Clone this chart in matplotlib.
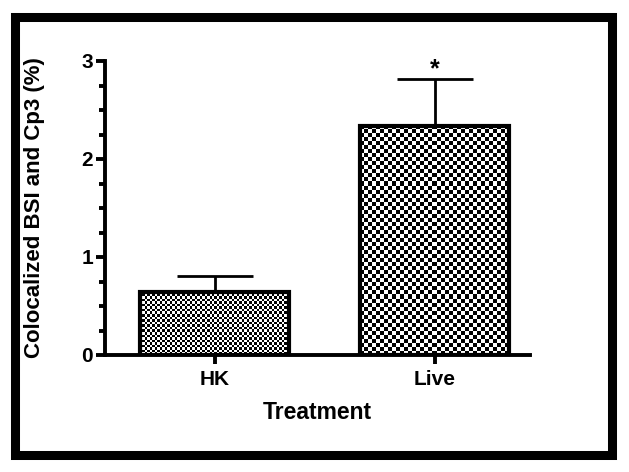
import numpy as np
import matplotlib
matplotlib.use("Agg")
import matplotlib.pyplot as plt
from matplotlib.patches import Rectangle
from matplotlib.ticker import MultipleLocator

categories = ["HK", "Live"]
values = [0.643, 2.337]
errors = [0.163, 0.479]
checker_px = [2.5, 4.0]
significance = ["", "*"]

plt.rcParams['font.family'] = ['Liberation Sans', 'DejaVu Sans']
plt.rcParams['font.weight'] = 'bold'

fig = plt.figure(figsize=(6.29, 4.72), dpi=100)
W, H = 629, 472
ax = fig.add_axes([105 / W, 1 - 355 / H, (530 - 105) / W, (355 - 61) / H])

x = np.arange(len(categories))
bars = ax.bar(x, values, width=0.677, color='none', edgecolor='black', linewidth=3.0, zorder=3)
ax.errorbar(x, values, yerr=[np.zeros(len(errors)), errors], fmt='none', ecolor='black',
            elinewidth=2.0, capsize=27.4, capthick=2.0, zorder=2)

ax.set_xlim(-0.498, 1.434)
ax.set_ylim(0, 3)
ax.set_xticks(x)
ax.set_xticklabels(categories)
ax.yaxis.set_major_locator(MultipleLocator(1))
ax.yaxis.set_minor_locator(MultipleLocator(0.25))
for s in ['top', 'right']:
    ax.spines[s].set_visible(False)
for s in ['left', 'bottom']:
    ax.spines[s].set_linewidth(2.8)
ax.tick_params(axis='both', which='major', width=2.8, length=6.5, labelsize=15, pad=2)
ax.tick_params(axis='x', which='major', pad=4)
ax.tick_params(axis='y', which='minor', width=2.8, length=4)
ax.set_ylabel("Colocalized BSI and Cp3 (%)", fontsize=16, fontweight='bold', labelpad=26)
ax.set_xlabel("Treatment", fontsize=16.5, fontweight='bold', labelpad=9)

for xi, v, e, s in zip(x, values, errors, significance):
    if s:
        ax.text(xi, v + e - 0.02, s, ha='center', va='bottom', fontsize=18, fontweight='bold')

# checkerboard fills
fig.canvas.draw()
for bar, px in zip(bars, checker_px):
    x0, y0 = bar.get_x(), 0
    x1, y1 = bar.get_x() + bar.get_width(), bar.get_height()
    (p0x, p0y), (p1x, p1y) = ax.transData.transform([(x0, y0), (x1, y1)])
    nx = max(1, int(round((p1x - p0x) / px)))
    ny = max(1, int(round((p1y - p0y) / px)))
    ii, jj = np.indices((ny, nx))
    img = ((ii + jj) % 2).astype(float)
    im = ax.imshow(img, cmap='gray', vmin=0, vmax=1, extent=(x0, x1, y0, y1),
                   interpolation='nearest', aspect='auto', zorder=2.5)
    im.set_clip_path(bar)
ax.set_xlim(-0.498, 1.434)
ax.set_ylim(0, 3)

# figure border
fig.patches.append(Rectangle((14.5 / W, 1 - 454.5 / H), (612 - 14.5) / W, (454.5 - 16.5) / H,
                             transform=fig.transFigure, fill=False, edgecolor='black',
                             linewidth=6.5, zorder=10))

fig.savefig("out.png", dpi=100)
